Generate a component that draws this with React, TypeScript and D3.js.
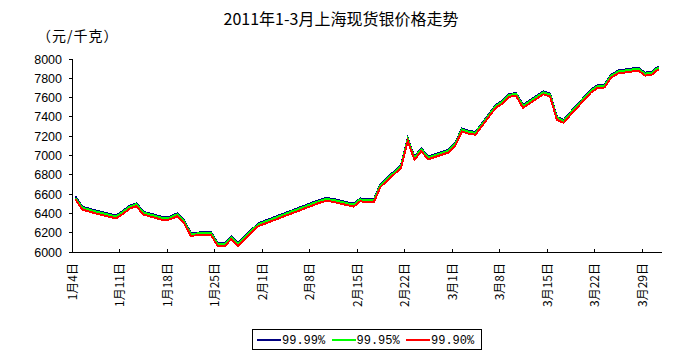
import * as d3 from "d3";

// trading days, Jan-Mar 2011
const tradeDays = [
  "2011-01-04", "2011-01-05", "2011-01-06", "2011-01-07",
  "2011-01-10", "2011-01-11", "2011-01-12", "2011-01-13", "2011-01-14",
  "2011-01-17", "2011-01-18", "2011-01-19", "2011-01-20", "2011-01-21",
  "2011-01-24", "2011-01-25", "2011-01-26", "2011-01-27", "2011-01-28",
  "2011-01-31", "2011-02-01",
  "2011-02-09", "2011-02-10", "2011-02-11",
  "2011-02-14", "2011-02-15", "2011-02-16", "2011-02-17", "2011-02-18",
  "2011-02-21", "2011-02-22", "2011-02-23", "2011-02-24", "2011-02-25",
  "2011-02-28", "2011-03-01", "2011-03-02", "2011-03-03", "2011-03-04",
  "2011-03-07", "2011-03-08", "2011-03-09", "2011-03-10", "2011-03-11",
  "2011-03-14", "2011-03-15", "2011-03-16", "2011-03-17", "2011-03-18",
  "2011-03-21", "2011-03-22", "2011-03-23", "2011-03-24", "2011-03-25",
  "2011-03-28", "2011-03-29", "2011-03-30", "2011-03-31",
];

const silver9999 = [
  6575, 6470, 6450, 6430,
  6378, 6425, 6480, 6505, 6418,
  6360, 6368, 6400, 6330, 6200,
  6205, 6090, 6088, 6165, 6095,
  6300, 6325,
  6540, 6560, 6550,
  6500, 6555, 6548, 6545, 6705,
  6900, 7180, 6985, 7075, 6990,
  7060, 7130, 7280, 7255, 7245,
  7525, 7570, 7640, 7645, 7525,
  7665, 7640, 7400, 7368, 7450,
  7680, 7730, 7735, 7835, 7880,
  7910, 7858, 7868, 7925,
];

const silver9995 = [
  6562, 6460, 6440, 6420,
  6368, 6415, 6470, 6495, 6408,
  6350, 6358, 6390, 6320, 6190,
  6195, 6080, 6078, 6155, 6085,
  6290, 6315,
  6530, 6550, 6540,
  6490, 6545, 6538, 6535, 6695,
  6890, 7170, 6975, 7065, 6980,
  7050, 7120, 7270, 7245, 7235,
  7515, 7560, 7630, 7635, 7515,
  7655, 7630, 7390, 7358, 7440,
  7670, 7720, 7725, 7825, 7870,
  7900, 7848, 7858, 7915,
];

const silver9990 = [
  6545, 6440, 6420, 6400,
  6348, 6395, 6450, 6475, 6388,
  6330, 6338, 6370, 6300, 6170,
  6175, 6060, 6058, 6135, 6065,
  6270, 6295,
  6510, 6530, 6520,
  6470, 6525, 6518, 6515, 6675,
  6870, 7150, 6955, 7045, 6960,
  7030, 7100, 7250, 7225, 7215,
  7495, 7540, 7610, 7615, 7495,
  7635, 7610, 7370, 7338, 7420,
  7650, 7700, 7705, 7805, 7850,
  7880, 7828, 7838, 7895,
];

const seriesNames = ["99.99%", "99.95%", "99.90%"];
const seriesColors = ["#000080", "#00ff00", "#ff0000"];

const tickDays = [
  "2011-01-04", "2011-01-11", "2011-01-18", "2011-01-25", "2011-02-01",
  "2011-02-08", "2011-02-15", "2011-02-22", "2011-03-01", "2011-03-08",
  "2011-03-15", "2011-03-22", "2011-03-29",
];
const tickLabels = [
  "1月4日", "1月11日", "1月18日", "1月25日", "2月1日", "2月8日", "2月15日",
  "2月22日", "3月1日", "3月8日", "3月15日", "3月22日", "3月29日",
];
const yTicks = [6000, 6200, 6400, 6600, 6800, 7000, 7200, 7400, 7600, 7800, 8000];

const parse = d3.timeParse("%Y-%m-%d");
const cjk = '"Noto Sans CJK SC", "Noto Sans", sans-serif';
const sans = '"Liberation Sans", Arial, sans-serif';
const mono = '"Liberation Mono", "DejaVu Sans Mono", monospace';

export default function App() {
  const width = 685;
  const height = 353;
  const plot = { left: 72, right: 662, top: 59, bottom: 252 };

  const x = d3
    .scaleTime()
    .domain([parse("2011-01-04")!, parse("2011-04-01")!])
    .range([plot.left, plot.right]);
  const y = d3.scaleLinear().domain([6000, 8000]).range([plot.bottom, plot.top]);

  // points sit in the middle of each day slot
  const days = tradeDays.map((d) => d3.timeHour.offset(parse(d)!, 12));
  const series = [silver9999, silver9995, silver9990];

  const line = d3
    .line<number>()
    .x((_, i) => x(days[i]))
    .y((v) => y(v));

  return (
    <svg width={width} height={height} style={{ display: "block", background: "#fff" }}>
      <style>{`body{margin:0}`}</style>
      <text x={341} y={25} textAnchor="middle" fontFamily={cjk} fontSize={16} fill="#000">
        2011年1-3月上海现货银价格走势
      </text>
      <text x={37} y={41} fontFamily={cjk} fontSize={14} letterSpacing={1} fill="#000">
        （元/千克）
      </text>

      {yTicks.map((t) => (
        <g key={t}>
          <line x1={plot.left - 3} x2={plot.left} y1={y(t)} y2={y(t)} stroke="#000" shapeRendering="crispEdges" />
          <text x={62} y={y(t)} dy="0.36em" textAnchor="end" fontFamily={sans} fontSize={12.5} fill="#000">
            {t}
          </text>
        </g>
      ))}
      <line x1={plot.left} x2={plot.left} y1={plot.top} y2={plot.bottom} stroke="#000" shapeRendering="crispEdges" />

      {tickDays.map((d, i) => {
        const tx = Math.round(x(parse(d)!));
        return (
          <g key={d}>
            <line x1={tx} x2={tx} y1={plot.bottom - 3} y2={plot.bottom} stroke="#000" shapeRendering="crispEdges" />
            <text
              transform={`translate(${tx + 1},263) rotate(-90)`}
              dy="0.35em"
              textAnchor="end"
              fontFamily={cjk}
              fontSize={12}
              fill="#000"
            >
              {tickLabels[i]}
            </text>
          </g>
        );
      })}
      <line x1={plot.left} x2={plot.right} y1={plot.bottom} y2={plot.bottom} stroke="#000" shapeRendering="crispEdges" />

      {series.map((s, i) => (
        <path
          key={seriesNames[i]}
          d={line(s) ?? ""}
          fill="none"
          stroke={seriesColors[i]}
          strokeWidth={2}
          shapeRendering="crispEdges"
        />
      ))}

      <rect x={252.5} y={329.5} width={229} height={20} fill="#fff" stroke="#000" shapeRendering="crispEdges" />
      {seriesNames.map((name, i) => {
        const lx = 257 + i * 74.5;
        return (
          <g key={name}>
            <line x1={lx} x2={lx + 24} y1={340} y2={340} stroke={seriesColors[i]} strokeWidth={2} shapeRendering="crispEdges" />
            <text x={lx + 25} y={340} dy="0.36em" fontFamily={mono} fontSize={12} fill="#000">
              {name}
            </text>
          </g>
        );
      })}
    </svg>
  );
}
